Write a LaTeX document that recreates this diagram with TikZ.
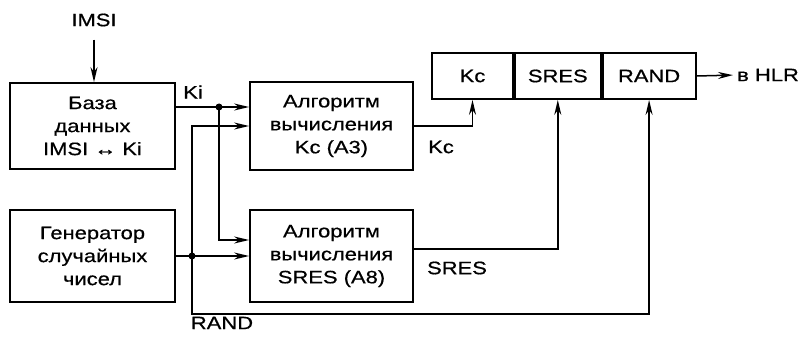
\documentclass[tikz,border=0pt]{standalone}
\usepackage{fontspec}
\setsansfont[FakeStretch=1.22,FakeBold=0.6]{Liberation Sans}
\usepackage{tikz}
\usetikzlibrary{arrows.meta,positioning}
\tikzset{
  every node/.style={font=\sffamily\fontsize{18}{23}\selectfont},
  blk/.style={draw,line width=1.8pt,align=center,inner sep=0pt},
  cell/.style={draw,line width=1.8pt,minimum width=#1,minimum height=46pt,inner sep=0pt},
  ar/.style={-{Stealth[length=15pt,width=7pt]},line width=1.5pt},
  sig/.style={inner sep=1pt},
}
\begin{document}
\begin{tikzpicture}[x=1pt,y=-1pt]
\useasboundingbox (0,0) rectangle (801,337);
% input blocks
\node[blk,minimum width=165pt,minimum height=86pt] (base) at (92.5,126)
 {База\\данных\\IMSI ↔ Ki};
\node[blk,minimum width=165pt,minimum height=92pt] (gen) at (92.5,256)
 {Генератор\\случайных\\чисел};
% algorithms
\node[blk,minimum width=163pt,minimum height=88pt] (algkc) at (331.5,126)
 {Алгоритм\\вычисления\\Kc (A3)};
\node[blk,minimum width=163pt,minimum height=92pt] (algsr) at (331.5,256)
 {Алгоритм\\вычисления\\SRES (A8)};
% triplet register
\node[cell=81pt] (kc) at (472.5,76) {Kc};
\node[cell=86pt,right=0pt of kc] (sres) {SRES};
\node[cell=93pt,right=0pt of sres] (rand) {RAND};
\node[inner sep=0pt,anchor=west] (hlr) at (737,75) {в HLR};
\node[sig] (imsi) at (94,20) {IMSI};

% junctions
\coordinate (kidot) at (219,107);
\coordinate (rdot) at (192,256);
\coordinate (bot) at (0,314);

% Ki
\draw[ar] (base.east |- kidot) -- (algkc.west |- kidot);
\draw[ar] (kidot) |- ([yshift=16pt]algsr.west);
\fill (kidot) circle (3.5);
% RAND
\draw[ar] (gen.east) -- (algsr.west);
\draw[ar] (rdot) |- (algkc.west);
\draw[ar] (rdot) -- (rdot |- bot) -| (rand.south);
\fill (rdot) circle (3.5);
% outputs
\draw[ar] (algkc.east) -| (kc.south);
\draw[ar] ([yshift=7pt]algsr.east) -| (sres.south);
\draw[ar,shorten >=4pt] (rand.east) -- (hlr.west);
\draw[ar,shorten <=12pt] (imsi.south) -- (imsi.south |- base.north);

% labels
\node[sig] at (193,92) {Ki};
\node[sig] at (441,147) {Kc};
\node[sig] at (457,268) {SRES};
\node[sig] at (222,323) {RAND};
\end{tikzpicture}
\end{document}
